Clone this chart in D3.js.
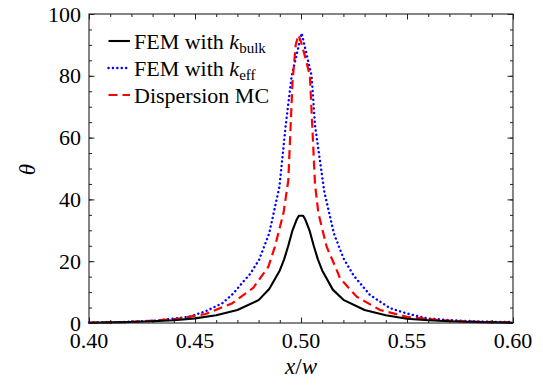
<!DOCTYPE html>
<html>
<head>
<meta charset="utf-8">
<script src="https://cdn.jsdelivr.net/npm/d3@7"></script>
<style>
  svg text, svg tspan { font-family: "Liberation Serif", "Times New Roman", Tinos !important; }
</style>
</head>
<body style="margin:0">
<script>
// data
var bulkX = [0.40, 0.41, 0.42, 0.43, 0.44, 0.45, 0.46, 0.47, 0.48, 0.485, 0.49, 0.492, 0.494, 0.496, 0.498, 0.499,
             0.501, 0.502, 0.504, 0.506, 0.508, 0.51, 0.515, 0.52, 0.53, 0.54, 0.55, 0.56, 0.57, 0.58, 0.59, 0.60];
var bulkY = [0.1, 0.2, 0.3, 0.55, 0.9, 1.5, 2.5, 4.2, 7.4, 11, 17, 20.5, 25, 30, 33.5, 34.7,
             34.7, 33.5, 30, 25, 20.5, 17, 10.8, 7.5, 4.2, 2.5, 1.4, 0.9, 0.55, 0.3, 0.2, 0.1];

var effX = [0.40, 0.4157, 0.4314, 0.4472, 0.455, 0.4629, 0.468, 0.4723, 0.4759, 0.4802, 0.485, 0.4898, 0.4928, 0.4956, 0.5003,
            0.505, 0.5066, 0.511, 0.5155, 0.52, 0.5247, 0.5325, 0.542, 0.5499, 0.5593, 0.573, 0.588, 0.60];
var effY = [0.15, 0.3, 0.75, 2.0, 3.8, 6.4, 9.5, 13.0, 15.8, 20.4, 29, 44, 64, 80, 93.8,
            80, 64, 42.5, 29, 21, 15.5, 9.1, 4.8, 3.1, 1.5, 0.8, 0.4, 0.3];

var mcX = [0.40, 0.41, 0.42, 0.4267, 0.4409, 0.455, 0.4676, 0.4775, 0.4846, 0.4877, 0.4917, 0.494, 0.495, 0.496, 0.4975, 0.4988,
           0.500, 0.502, 0.5042, 0.5053, 0.5066, 0.5082, 0.5121, 0.5168, 0.5184, 0.5263, 0.5373, 0.5499, 0.564, 0.578, 0.59, 0.60];
var mcY = [0.1, 0.2, 0.35, 0.6, 1.3, 2.9, 6.4, 11.4, 18.2, 24.7, 35.5, 46, 62, 78, 90, 93.2,
           91, 86, 80, 64, 45, 35.5, 24.7, 17.2, 14.5, 8.5, 4.2, 2.0, 1.0, 0.5, 0.3, 0.15];

var seriesNames = ["FEM with k_bulk", "FEM with k_eff", "Dispersion MC"];
var xTicks = [0.40, 0.45, 0.50, 0.55, 0.60];
var yTicks = [0, 20, 40, 60, 80, 100];

var svgWidth = 543, svgHeight = 387;
var margin = {top: 14, left: 89},
    width = 513 - margin.left,
    height = 323 - margin.top;

var fontName = "Liberation Serif";

var svg = d3.select("body")
  .append("svg")
    .attr("width", svgWidth)
    .attr("height", svgHeight)
    .attr("font-family", fontName)
  .append("g")
    .attr("transform", "translate(" + margin.left + "," + margin.top + ")");

var x = d3.scaleLinear().domain([0.40, 0.60]).range([0, width]);
var y = d3.scaleLinear().domain([0, 100]).range([height, 0]);

// inward ticks on all four sides
var xMinor = d3.range(0, 21).map(function(i) { return 0.40 + i * 0.01; });
var yMinor = d3.range(0, 21).map(function(i) { return i * 5; });

function drawTicks(g, axis) {
  g.call(axis);
  g.attr("font-family", null);
  g.select(".domain").remove();
  g.selectAll(".tick text").remove();
  g.selectAll(".tick line").attr("stroke", "#222").attr("stroke-width", 1);
}

svg.append("g").attr("transform", "translate(0," + height + ")")
  .call(drawTicks, d3.axisTop(x).tickValues(xMinor).tickSize(3));
svg.append("g").attr("transform", "translate(0," + height + ")")
  .call(drawTicks, d3.axisTop(x).tickValues(xTicks).tickSize(5.5));
svg.append("g")
  .call(drawTicks, d3.axisBottom(x).tickValues(xMinor).tickSize(3));
svg.append("g")
  .call(drawTicks, d3.axisBottom(x).tickValues(xTicks).tickSize(5.5));
svg.append("g")
  .call(drawTicks, d3.axisRight(y).tickValues(yMinor).tickSize(3));
svg.append("g")
  .call(drawTicks, d3.axisRight(y).tickValues(yTicks).tickSize(5.5));
svg.append("g").attr("transform", "translate(" + width + ",0)")
  .call(drawTicks, d3.axisLeft(y).tickValues(yMinor).tickSize(3));
svg.append("g").attr("transform", "translate(" + width + ",0)")
  .call(drawTicks, d3.axisLeft(y).tickValues(yTicks).tickSize(5.5));

// tick labels
svg.selectAll(".xlab")
  .data(xTicks).enter().append("text")
    .attr("class", "xlab")
    .attr("x", function(d) { return x(d); })
    .attr("y", height + 25)
    .attr("text-anchor", "middle")
    .attr("font-family", fontName)
    .attr("font-size", 22)
    .text(function(d) { return d.toFixed(2); });

svg.selectAll(".ylab")
  .data(yTicks).enter().append("text")
    .attr("class", "ylab")
    .attr("x", -8)
    .attr("y", function(d) { return y(d) + 7.5; })
    .attr("text-anchor", "end")
    .attr("font-family", fontName)
    .attr("font-size", 22)
    .text(function(d) { return d; });

// the curves
var line = d3.line()
  .x(function(d) { return x(d[0]); })
  .y(function(d) { return y(d[1]); });

var bulkData = d3.zip(bulkX, bulkY),
    effData = d3.zip(effX, effY),
    mcData = d3.zip(mcX, mcY);

svg.append("path").datum(effData)
  .attr("d", line)
  .attr("fill", "none")
  .attr("stroke", "#0000ff")
  .attr("stroke-width", 2.4)
  .attr("stroke-linecap", "round")
  .attr("stroke-dasharray", "0.1,4.3");

svg.append("path").datum(mcData)
  .attr("d", line)
  .attr("fill", "none")
  .attr("stroke", "#ff0000")
  .attr("stroke-width", 2.2)
  .attr("stroke-dasharray", "9,5");

svg.append("path").datum(bulkData)
  .attr("d", line)
  .attr("fill", "none")
  .attr("stroke", "#000")
  .attr("stroke-width", 2.1)
  .attr("stroke-linejoin", "round");

// frame
svg.append("rect")
  .attr("width", width)
  .attr("height", height)
  .attr("fill", "none")
  .attr("stroke", "#222")
  .attr("stroke-width", 1.1);

// axis titles
var xl = svg.append("text")
  .attr("x", width / 2)
  .attr("y", height + 51)
  .attr("text-anchor", "middle")
  .attr("font-family", fontName)
  .attr("font-size", 23);
xl.append("tspan").attr("font-style", "italic").text("x");
xl.append("tspan").text("/");
xl.append("tspan").attr("font-style", "italic").text("w");

svg.append("text")
  .attr("text-anchor", "middle")
  .attr("transform", "translate(" + (-62) + "," + (y(50) + 1) + ")rotate(-90)")
  .attr("dy", "0.35em")
  .attr("font-family", fontName)
  .attr("font-size", 23)
  .attr("font-style", "italic")
  .text("θ");

// legend
var legendY = [27, 54, 81];
var legendStyles = [
  {color: "#000", dash: null, width: 2.1, cap: "butt"},
  {color: "#0000ff", dash: "0.1,4.3", width: 2.4, cap: "round"},
  {color: "#ff0000", dash: "9,5", width: 2.2, cap: "butt"}
];
var subs = ["bulk", "eff", null];

legendStyles.forEach(function(s, i) {
  svg.append("line")
    .attr("x1", 19.5).attr("x2", 41)
    .attr("y1", legendY[i]).attr("y2", legendY[i])
    .attr("stroke", s.color)
    .attr("stroke-width", s.width)
    .attr("stroke-linecap", s.cap)
    .attr("stroke-dasharray", s.dash);

  var t = svg.append("text")
    .attr("x", 45)
    .attr("y", legendY[i] + 7.5)
    .attr("font-family", fontName)
    .attr("font-size", 22);
  if (subs[i]) {
    t.append("tspan").text("FEM with ");
    t.append("tspan").attr("font-style", "italic").text("k");
    t.append("tspan").attr("dy", 4).attr("font-size", 15).text(subs[i]);
  } else {
    t.text(seriesNames[i]);
  }
});
</script>
</body>
</html>
